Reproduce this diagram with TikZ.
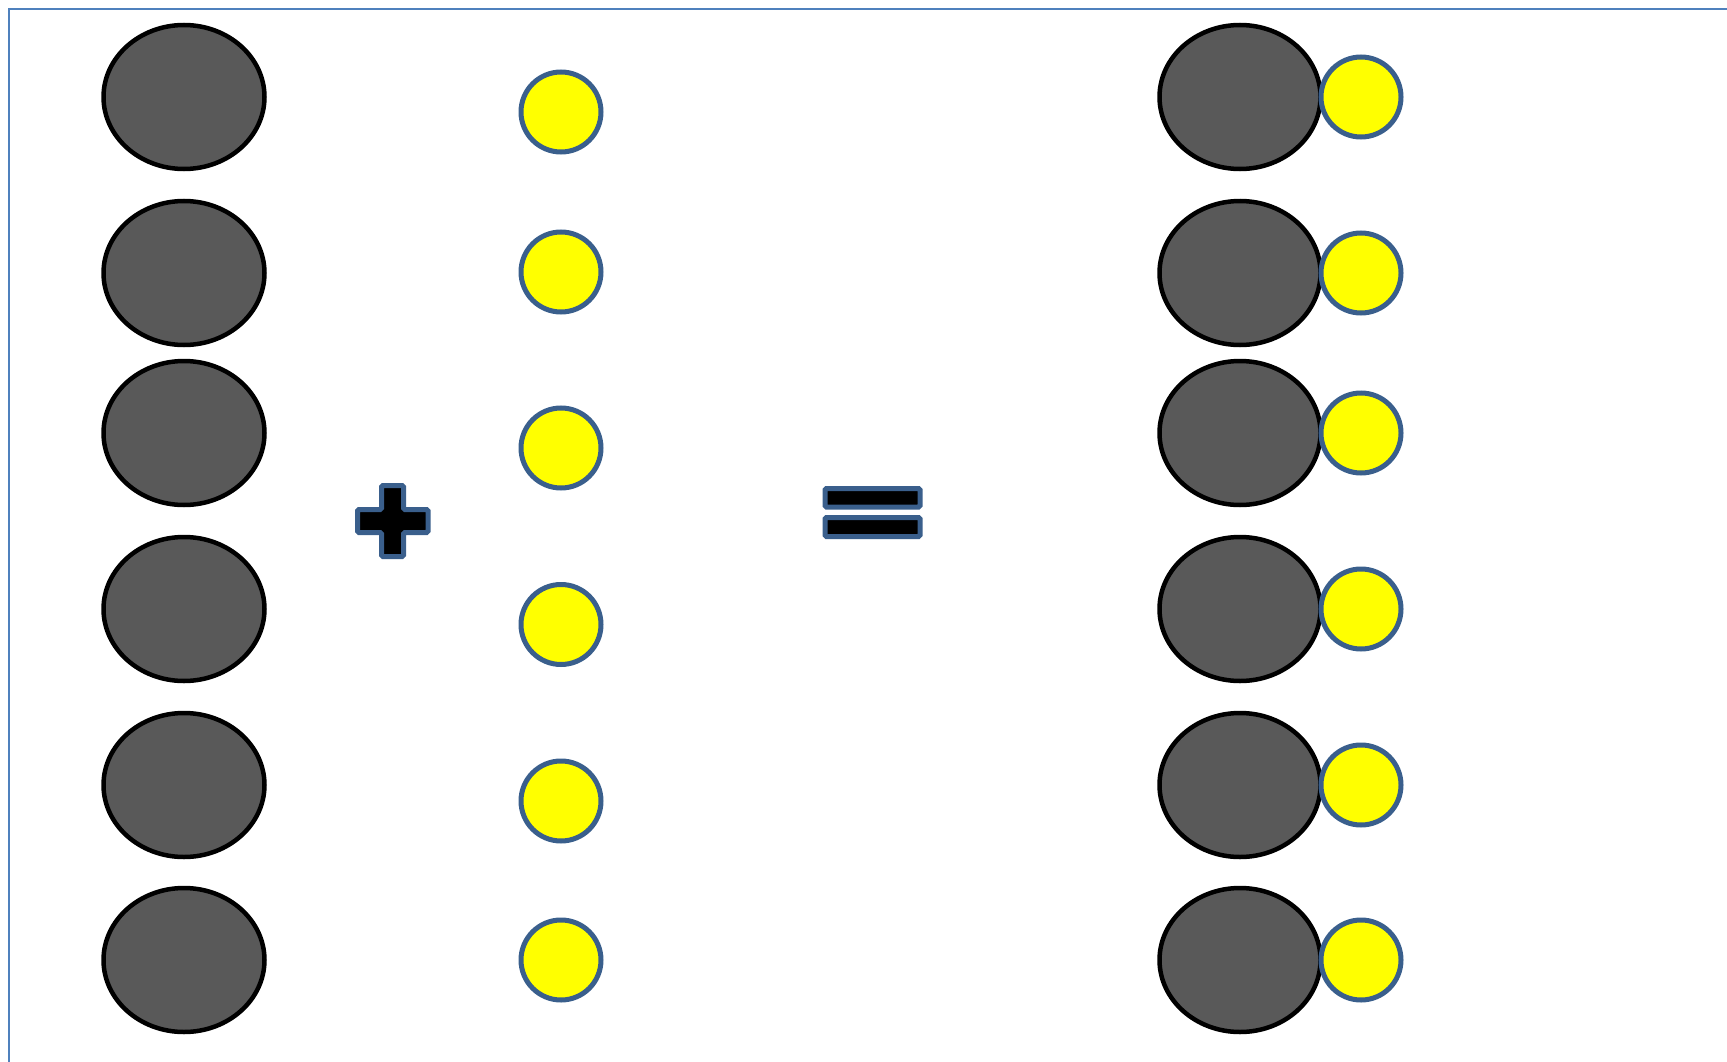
\documentclass[tikz,border=0pt]{standalone}
\usetikzlibrary{shapes.geometric}
\definecolor{frameblue}{HTML}{4F81BD}
\definecolor{ringblue}{HTML}{3A5F8C}
\definecolor{atomgray}{HTML}{595959}
\definecolor{atomyellow}{HTML}{FFFF00}
\tikzset{
  bigatom/.style={ellipse, draw=black, fill=atomgray, line width=4.5pt,
    minimum width=161pt, minimum height=144pt, inner sep=0pt},
  smallatom/.style={circle, draw=ringblue, fill=atomyellow, line width=5pt,
    minimum size=80pt, inner sep=0pt},
  sign/.style={draw=ringblue, fill=black, line width=5pt, rounded corners=1.5pt}
}
\begin{document}
\begin{tikzpicture}[x=1pt,y=-1pt]
\useasboundingbox (0,0) rectangle (1727,1062);
% frame edges
\draw[frameblue, line width=2pt] (9,1062) -- (9,9) -- (1727,9);
% left column: large atoms
\foreach \y [count=\i] in {97,273,433,609,785,960}
  \node[bigatom] (L\i) at (184,\y) {};
% middle column: small atoms
\foreach \y [count=\i] in {112,272,448,624.5,801,960}
  \node[smallatom] (M\i) at (561,\y) {};
% right column: bound pairs
\foreach \y [count=\i] in {97,273,433,609,785,960} {
  \node[bigatom] (R\i) at (1240,\y) {};
  \node[smallatom] (S\i) at (1361,\y) {};
}
% plus sign
\draw[sign] (381.5,485.5) -- (403.5,485.5) -- (403.5,509.5) -- (428,509.5)
  -- (428,532.5) -- (403.5,532.5) -- (403.5,556.5) -- (381.5,556.5)
  -- (381.5,532.5) -- (357.5,532.5) -- (357.5,509.5) -- (381.5,509.5) -- cycle;
% equals sign
\draw[sign] (825,488.5) rectangle (920,507);
\draw[sign] (825,517.5) rectangle (920,536.5);
\end{tikzpicture}
\end{document}
